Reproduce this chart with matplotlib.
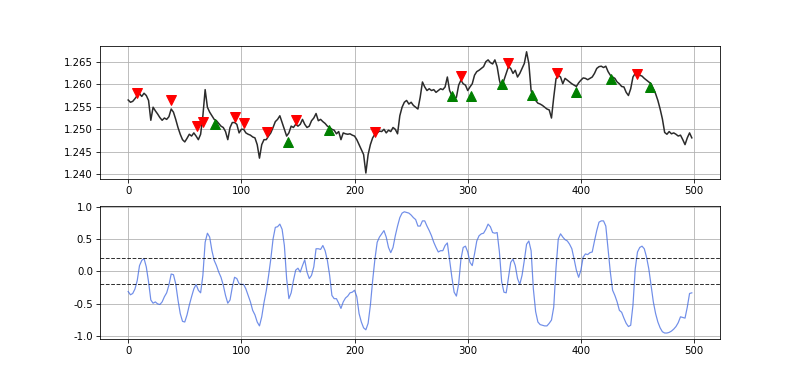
import numpy as np
import matplotlib
matplotlib.use("Agg")
import matplotlib.pyplot as plt
from matplotlib.ticker import MultipleLocator, FormatStrFormatter

# ---- data ----
price_bar = list(range(0, 500, 2))
close = [
    1.2565, 1.2560, 1.2562, 1.2568, 1.2575, 1.2579, 1.2573, 1.2580, 1.2575, 1.2564,
    1.2520, 1.2549, 1.2541, 1.2534, 1.2526, 1.2520, 1.2525, 1.2522, 1.2528, 1.2545,
    1.2538, 1.2522, 1.2504, 1.2489, 1.2477, 1.2472, 1.2480, 1.2489, 1.2485, 1.2492,
    1.2485, 1.2477, 1.2489, 1.2530, 1.2588, 1.2549, 1.2538, 1.2530, 1.2522, 1.2519,
    1.2513, 1.2507, 1.2504, 1.2495, 1.2477, 1.2504, 1.2515, 1.2515, 1.2511, 1.2492,
    1.2500, 1.2500, 1.2492, 1.2489, 1.2487, 1.2483, 1.2481, 1.2466, 1.2436, 1.2466,
    1.2477, 1.2477, 1.2485, 1.2492, 1.2504, 1.2517, 1.2522, 1.2530, 1.2515, 1.2500,
    1.2485, 1.2492, 1.2507, 1.2504, 1.2511, 1.2507, 1.2511, 1.2522, 1.2511, 1.2504,
    1.2507, 1.2519, 1.2525, 1.2535, 1.2519, 1.2522, 1.2517, 1.2513, 1.2507, 1.2504,
    1.2500, 1.2498, 1.2490, 1.2495, 1.2477, 1.2492, 1.2490, 1.2489, 1.2490, 1.2487,
    1.2485, 1.2477, 1.2466, 1.2455, 1.2444, 1.2403, 1.2444, 1.2466, 1.2481, 1.2489,
    1.2492, 1.2496, 1.2495, 1.2500, 1.2492, 1.2498, 1.2495, 1.2504, 1.2500, 1.2490,
    1.2530, 1.2549, 1.2560, 1.2564, 1.2556, 1.2560, 1.2553, 1.2549, 1.2545, 1.2571,
    1.2605, 1.2594, 1.2586, 1.2590, 1.2586, 1.2588, 1.2582, 1.2586, 1.2590, 1.2588,
    1.2594, 1.2616, 1.2586, 1.2575, 1.2568, 1.2571, 1.2598, 1.2609, 1.2601, 1.2598,
    1.2586, 1.2594, 1.2601, 1.2620, 1.2628, 1.2631, 1.2635, 1.2639, 1.2650, 1.2654,
    1.2648, 1.2645, 1.2654, 1.2639, 1.2609, 1.2590, 1.2609, 1.2624, 1.2639, 1.2635,
    1.2624, 1.2631, 1.2616, 1.2624, 1.2635, 1.2646, 1.2672, 1.2646, 1.2586, 1.2568,
    1.2564, 1.2558, 1.2556, 1.2553, 1.2549, 1.2545, 1.2543, 1.2525, 1.2571, 1.2612,
    1.2620, 1.2616, 1.2601, 1.2613, 1.2609, 1.2605, 1.2601, 1.2598, 1.2595, 1.2603,
    1.2609, 1.2614, 1.2613, 1.2610, 1.2613, 1.2616, 1.2624, 1.2635, 1.2639, 1.2640,
    1.2637, 1.2640, 1.2628, 1.2620, 1.2616, 1.2613, 1.2605, 1.2601, 1.2595, 1.2594,
    1.2582, 1.2575, 1.2590, 1.2616, 1.2624, 1.2631, 1.2620, 1.2618, 1.2613, 1.2609,
    1.2605, 1.2601, 1.2590, 1.2579, 1.2564, 1.2545, 1.2523, 1.2493, 1.2489, 1.2495,
    1.2490, 1.2492, 1.2489, 1.2485, 1.2487, 1.2477, 1.2466, 1.2481, 1.2492, 1.2481,
]

sell_bar = [8, 38, 61, 66, 94, 102, 123, 148, 218, 294, 336, 379, 450]
sell_val = [1.2581, 1.2565, 1.2507, 1.2517, 1.2528, 1.2513, 1.2494, 1.2521,
            1.2495, 1.2618, 1.2648, 1.2626, 1.2622]
buy_bar = [77, 141, 177, 286, 303, 330, 357, 396, 427, 461]
buy_val = [1.2511, 1.2471, 1.2498, 1.2573, 1.2573, 1.2600, 1.2575, 1.2583,
           1.2612, 1.2594]

osc_bar = list(range(0, 500, 2))
osc = [
    -0.31, -0.36, -0.34, -0.27, -0.14, 0.09, 0.17, 0.20, 0.07, -0.16,
    -0.44, -0.49, -0.47, -0.50, -0.51, -0.47, -0.39, -0.33, -0.21, -0.04,
    -0.05, -0.19, -0.44, -0.65, -0.77, -0.78, -0.67, -0.52, -0.39, -0.27,
    -0.20, -0.29, -0.33, -0.06, 0.45, 0.59, 0.53, 0.32, 0.17, 0.09,
    -0.01, -0.09, -0.21, -0.37, -0.49, -0.44, -0.24, -0.09, -0.11, -0.19,
    -0.20, -0.20, -0.27, -0.37, -0.47, -0.60, -0.67, -0.78, -0.84, -0.70,
    -0.48, -0.30, -0.07, 0.19, 0.50, 0.68, 0.69, 0.73, 0.65, 0.40,
    -0.11, -0.42, -0.33, -0.14, 0.02, 0.05, -0.01, 0.09, 0.18, -0.01,
    -0.11, -0.06, 0.07, 0.35, 0.35, 0.34, 0.40, 0.32, 0.17, -0.06,
    -0.37, -0.42, -0.42, -0.49, -0.57, -0.47, -0.41, -0.38, -0.33, -0.32,
    -0.29, -0.39, -0.65, -0.78, -0.87, -0.90, -0.80, -0.52, -0.14, 0.19,
    0.45, 0.53, 0.58, 0.63, 0.53, 0.37, 0.29, 0.37, 0.55, 0.70,
    0.83, 0.90, 0.92, 0.91, 0.90, 0.87, 0.83, 0.80, 0.70, 0.70,
    0.78, 0.78, 0.70, 0.63, 0.55, 0.45, 0.37, 0.30, 0.32, 0.32,
    0.40, 0.44, 0.17, -0.09, -0.32, -0.38, -0.19, 0.19, 0.37, 0.39,
    0.30, 0.14, 0.09, 0.27, 0.47, 0.55, 0.58, 0.59, 0.65, 0.73,
    0.69, 0.60, 0.59, 0.60, 0.30, -0.16, -0.32, -0.33, -0.09, 0.14,
    0.19, 0.09, -0.11, -0.20, -0.06, 0.17, 0.42, 0.47, 0.32, -0.27,
    -0.62, -0.78, -0.82, -0.83, -0.84, -0.84, -0.80, -0.75, -0.55, 0.05,
    0.50, 0.58, 0.53, 0.49, 0.47, 0.42, 0.35, 0.19, 0.02, -0.09,
    0.02, 0.22, 0.27, 0.26, 0.29, 0.30, 0.47, 0.63, 0.76, 0.78,
    0.78, 0.70, 0.35, -0.01, -0.29, -0.37, -0.47, -0.60, -0.63, -0.72,
    -0.80, -0.85, -0.83, -0.52, 0.04, 0.30, 0.37, 0.39, 0.35, 0.22,
    0.04, -0.21, -0.47, -0.65, -0.78, -0.87, -0.93, -0.95, -0.95, -0.94,
    -0.92, -0.89, -0.85, -0.79, -0.70, -0.71, -0.72, -0.55, -0.34, -0.33,
]
upper_level = 0.2
lower_level = -0.2

# ---- plotting ----
DPI = 800 / 11
fig, (ax1, ax2) = plt.subplots(2, 1, figsize=(11, 381 / DPI), dpi=DPI)

ax1.plot(price_bar, close, color='#2b2b2b', linewidth=1.5)
ax1.plot(buy_bar, buy_val, linestyle='none', marker='^', color='green', markersize=10)
ax1.plot(sell_bar, sell_val, linestyle='none', marker='v', color='red', markersize=10)
ax1.yaxis.set_major_locator(MultipleLocator(0.005))
ax1.yaxis.set_major_formatter(FormatStrFormatter('%.3f'))
ax1.grid(True)

ax2.plot(osc_bar, osc, color='royalblue', alpha=0.75, linewidth=1.2)
ax2.axhline(y=upper_level, color='black', linestyle='--', linewidth=1, alpha=0.8)
ax2.axhline(y=lower_level, color='black', linestyle='--', linewidth=1, alpha=0.8)
ax2.yaxis.set_major_locator(MultipleLocator(0.5))
ax2.yaxis.set_major_formatter(FormatStrFormatter('%.1f'))
ax2.grid(True)

fig.savefig('out.png', dpi=DPI)
